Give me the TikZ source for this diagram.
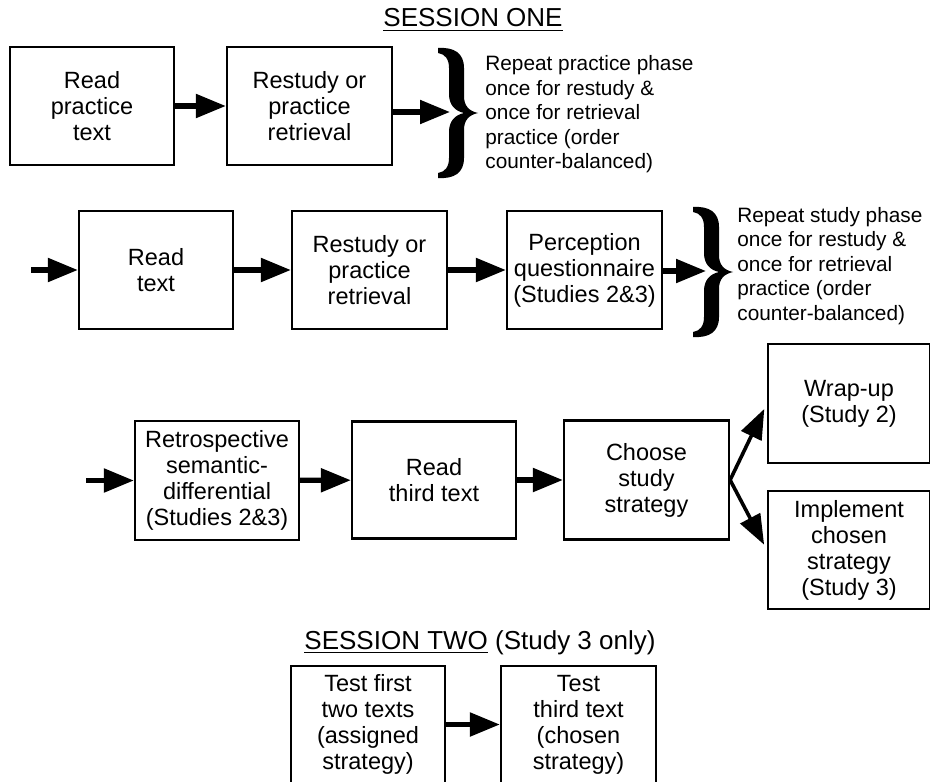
\documentclass[tikz,border=0pt]{standalone}
\usepackage{fontspec}
\setmainfont{Liberation Sans}
\usetikzlibrary{arrows.meta, positioning}
\tikzset{
  stage/.style    = {rectangle, draw, line width=1.1pt, align=center, inner sep=2pt,
                     minimum height=59pt, font=\fontsize{11.75}{13}\selectfont},
  note/.style     = {align=left, anchor=west, inner sep=0pt,
                     font=\fontsize{10.4}{12.25}\selectfont},
  heading/.style  = {anchor=base, inner sep=0pt, font=\fontsize{13}{15}\selectfont},
  arrow/.style    = {line width=2.6pt, -{Triangle[length=15pt,width=11.5pt]}},
  thinarrow/.style= {line width=1.8pt, -{Triangle[length=15pt,width=11pt]}, shorten >=3pt},
  curly/.pic = {
    \fill (0,0) .. controls (16,-1) and (26,5) .. (26,20) -- (26,48)
      .. controls (26,58) and (31,63) .. (40,65) .. controls (31,67) and (26,72) .. (26,82)
      -- (26,110) .. controls (26,125) and (16,131) .. (0,130) -- (0,125)
      .. controls (7,124) and (11,119) .. (11,110) -- (11,84)
      .. controls (11,73) and (17,67) .. (26,65) .. controls (17,63) and (11,57) .. (11,46)
      -- (11,20) .. controls (11,11) and (7,6) .. (0,5) -- cycle;
  },
}

\begin{document}
\begin{tikzpicture}[x=0.5pt, y=-0.5pt]
    \useasboundingbox (0,0) rectangle (930,781);

    %% Session one: practice phase
    \node[heading] (s1) at (473,27) {\underline{SESSION ONE}};
    \node[stage, minimum width=82pt]   (rpt) at (92,106)    {Read\\practice\\text};
    \node[stage, minimum width=82.5pt] (rs1) at (309.5,106) {Restudy or\\practice\\retrieval};
    \pic at (438,48) {curly};
    \coordinate (br1) at (450,112);
    \node[note] (rep1) at (485,114.5) {Repeat practice phase\\once for restudy \&\\once for retrieval\\practice (order\\counter-balanced)};

    \draw[arrow] (rpt) -- (rs1);
    \draw[arrow] (rs1.east |- br1) -- (br1);

    %% Study phase
    \coordinate (in2) at (31,270);
    \node[stage, minimum width=77pt]   (rt)  at (156,270)   {Read\\text};
    \node[stage, minimum width=77.5pt] (rs2) at (369.5,270) {Restudy or\\practice\\retrieval};
    \node[stage, minimum width=77.5pt] (pq)  at (584.5,270) {Perception\\questionnaire\\(Studies 2\&3)};
    \pic at (693,207) {curly};
    \coordinate (br2) at (706,271);
    \node[note] (rep2) at (737,266) {Repeat study phase\\once for restudy \&\\once for retrieval\\practice (order\\counter-balanced)};

    \draw[arrow] (in2) -- (rt);
    \draw[arrow] (rt) -- (rs2);
    \draw[arrow] (rs2) -- (pq);
    \draw[arrow] (pq.east |- br2) -- (br2);

    %% Choice phase
    \coordinate (in3) at (86,480.5);
    \node[stage, minimum width=82pt, minimum height=59.5pt]   (rsd)  at (217,480.5) {Retrospective\\semantic-\\differential\\(Studies 2\&3)};
    \node[stage, minimum width=82pt, minimum height=58.5pt]   (rtt)  at (434,480)   {Read\\third text};
    \node[stage, minimum width=82.5pt, minimum height=59.5pt] (ch)   at (646.5,480) {Choose\\study\\strategy};
    \node[stage, minimum width=81pt, minimum height=59.5pt]   (wrap) at (849,403.5) {Wrap-up\\(Study 2)};
    \node[stage, minimum width=81pt]                          (impl) at (849,550)   {Implement\\chosen\\strategy\\(Study 3)};

    \draw[arrow] (in3) -- (rsd);
    \draw[arrow] (rsd) -- (rtt);
    \draw[arrow] (rtt) -- (ch);
    \draw[thinarrow] (ch.east) -- (wrap.west);
    \draw[thinarrow] (ch.east) -- (impl.west);

    %% Session two
    \node[heading] (s2) at (480,649) {\underline{SESSION TWO} (Study 3 only)};
    \node[stage, minimum width=77pt, minimum height=58.5pt]   (tf) at (368,724.5)   {Test first\\two texts\\(assigned\\strategy)};
    \node[stage, minimum width=77.5pt, minimum height=58.5pt] (tt) at (578.5,724.5) {Test\\third text\\(chosen\\strategy)};

    \draw[arrow] (tf) -- (tt);

\end{tikzpicture}
\end{document}
